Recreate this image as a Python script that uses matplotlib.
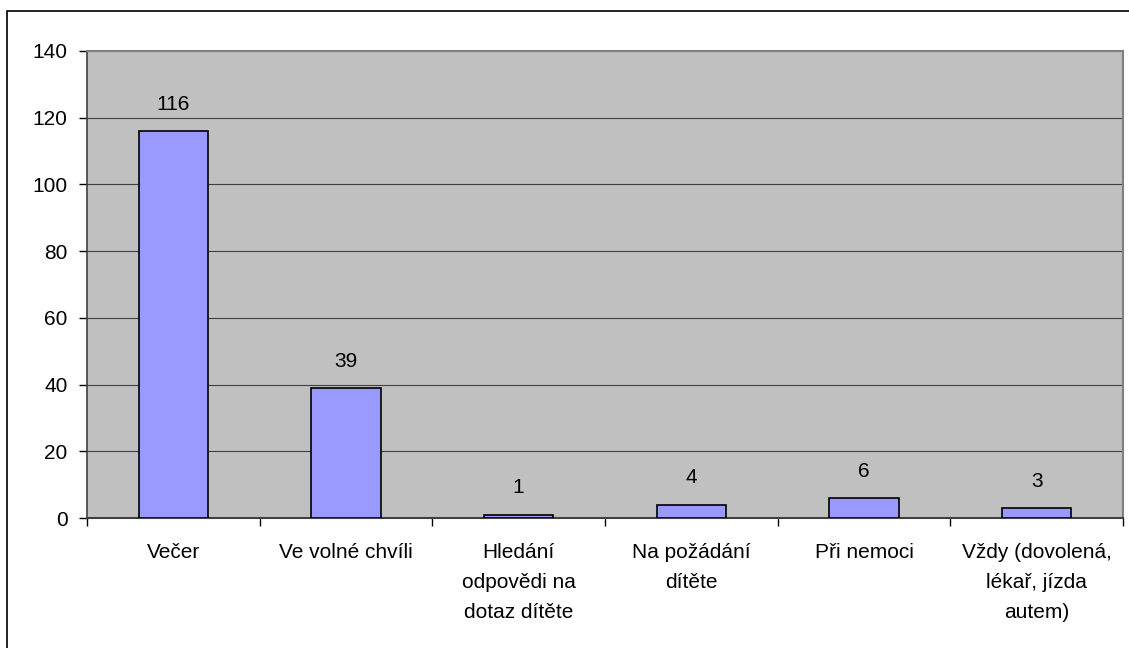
import matplotlib.pyplot as plt
import matplotlib.patches as mpatches

categories = ["Večer", "Ve volné chvíli", "Hledání\nodpovědi na\ndotaz dítěte",
              "Na požádání\ndítěte", "Při nemoci", "Vždy (dovolená,\nlékař, jízda\nautem)"]
values = [116, 39, 1, 4, 6, 3]
yticks = [0, 20, 40, 60, 80, 100, 120, 140]

plt.rcParams['font.family'] = ['Liberation Sans', 'DejaVu Sans']

fig = plt.figure(figsize=(11.29, 6.48), dpi=100)
# outer chart frame (cut off at right/bottom like the original)
fig.patches.append(mpatches.Rectangle((7 / 1129, -0.1), 1.2, (648 - 11) / 648 + 0.1,
                                      transform=fig.transFigure, fill=False,
                                      edgecolor='black', linewidth=1.2))

ax = fig.add_axes([87 / 1129, 1 - 518 / 648, (1123 - 87) / 1129, (518 - 51) / 648])
ax.set_facecolor('#c0c0c0')

x = range(len(categories))
ax.bar(x, values, width=0.4, color='#9999ff', edgecolor='black', linewidth=1.2, zorder=3)
for i, v in enumerate(values):
    ax.annotate(str(v), (i, v), xytext=(0, 12.5), textcoords='offset points',
                ha='center', va='bottom', fontsize=15)

ax.set_xlim(-0.5, len(categories) - 0.5)
ax.set_ylim(0, 140)
ax.set_yticks(yticks)
ax.yaxis.grid(True, color='#404040', linewidth=0.8, zorder=1)
ax.set_axisbelow(True)
ax.tick_params(axis='y', labelsize=15, length=6, width=1, direction='out', pad=8)

ax.set_xticks([i - 0.5 for i in range(len(categories) + 1)])
ax.set_xticklabels([])
ax.set_xticks(list(x), minor=True)
ax.set_xticklabels(categories, minor=True, fontsize=15, linespacing=1.75, va='top')
ax.tick_params(axis='x', which='major', length=6, width=1, direction='out')
ax.tick_params(axis='x', which='minor', length=0, pad=18)

for side in ['top', 'right']:
    ax.spines[side].set_color('#808080')
    ax.spines[side].set_linewidth(1.5)
ax.spines['left'].set_color('#404040')
ax.spines['bottom'].set_color('#404040')
ax.spines['left'].set_linewidth(1.2)
ax.spines['bottom'].set_linewidth(1.5)

fig.savefig('out.png', dpi=100)
